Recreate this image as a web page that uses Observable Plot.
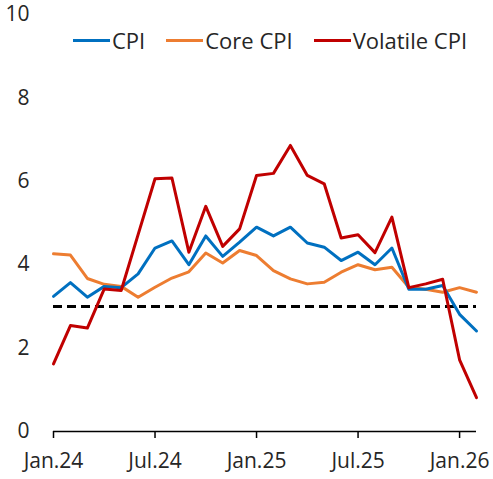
<!DOCTYPE html>
<html>
<head>
<meta charset="utf-8">
<script src="https://cdn.jsdelivr.net/npm/d3@7"></script>
<script src="https://cdn.jsdelivr.net/npm/@observablehq/plot@0.6"></script>
<style>
  html, body { margin: 0; padding: 0; background: #fff; }
  #wrap { position: relative; width: 493px; height: 479px; font-family: "Open Sans", sans-serif; }
  #legend { position: absolute; top: 25px; left: 73px; display: flex; align-items: center; font-size: 22px; color: #262626; white-space: nowrap; }
  .item { display: flex; align-items: center; margin-right: 21px; }
  .sw { width: 37px; height: 3px; margin-right: 2px; }
</style>
</head>
<body>
<div id="wrap"><div id="legend"></div></div>
<script>
const months = ["Jan.24","Feb.24","Mar.24","Apr.24","May.24","Jun.24","Jul.24","Aug.24","Sep.24","Oct.24","Nov.24","Dec.24",
  "Jan.25","Feb.25","Mar.25","Apr.25","May.25","Jun.25","Jul.25","Aug.25","Sep.25","Oct.25","Nov.25","Dec.25","Jan.26","Feb.26"];
const cpi = [3.24,3.57,3.22,3.48,3.45,3.78,4.40,4.57,4.00,4.69,4.20,4.54,
  4.90,4.69,4.90,4.52,4.42,4.10,4.30,4.00,4.40,3.41,3.41,3.50,2.81,2.41];
const coreCpi = [4.26,4.23,3.67,3.53,3.48,3.22,3.46,3.68,3.83,4.28,4.04,4.34,
  4.22,3.86,3.66,3.54,3.58,3.82,4.00,3.88,3.94,3.46,3.41,3.34,3.45,3.34];
const volatileCpi = [1.62,2.54,2.48,3.42,3.38,4.72,6.06,6.08,4.30,5.40,4.44,4.86,
  6.14,6.19,6.86,6.14,5.94,4.64,4.72,4.29,5.14,3.45,3.54,3.65,1.72,0.81];
const seriesNames = ["CPI","Core CPI","Volatile CPI"];
const seriesColors = ["#0070C0","#ED7D31","#C00000"];
const target = [3];
const yTicks = [0,2,4,6,8,10];
const xTickIdx = [0,6,12,18,24];

const rows = (vals, name) => vals.map((v, i) => ({i, month: months[i], v, name}));
const dCpi = rows(cpi, "CPI");
const dCore = rows(coreCpi, "Core CPI");
const dVol = rows(volatileCpi, "Volatile CPI");
const colorOf = Object.fromEntries(seriesNames.map((n, k) => [n, seriesColors[k]]));

const chart = Plot.plot({
  width: 493,
  height: 479,
  marginLeft: 53,
  marginRight: 17,
  marginTop: 14,
  marginBottom: 48,
  style: {fontFamily: "Open Sans, sans-serif", fontSize: "21px", color: "#262626", background: "#fff"},
  x: {type: "linear", domain: [0, months.length - 1]},
  y: {domain: [0, 10]},
  marks: [
    Plot.axisY({ticks: yTicks, tickSize: 0, tickPadding: 24, label: null, tickFormat: d => String(d)}),
    Plot.axisX({ticks: xTickIdx, tickSize: 7, tickPadding: 15, label: null, tickFormat: d => months[d], stroke: "#000", strokeWidth: 1.5}),
    Plot.ruleY([0], {stroke: "#000", strokeWidth: 1.5}),
    Plot.ruleY(target, {stroke: "#000", strokeWidth: 3, strokeDasharray: "9,5"}),
    Plot.line(dCore, {x: "i", y: "v", stroke: colorOf["Core CPI"], strokeWidth: 3, strokeLinejoin: "round"}),
    Plot.line(dCpi, {x: "i", y: "v", stroke: colorOf["CPI"], strokeWidth: 3, strokeLinejoin: "round"}),
    Plot.line(dVol, {x: "i", y: "v", stroke: colorOf["Volatile CPI"], strokeWidth: 3, strokeLinejoin: "round"})
  ]
});
const wrap = document.getElementById("wrap");
wrap.insertBefore(chart, wrap.firstChild);
const legend = document.getElementById("legend");
seriesNames.forEach((n, k) => {
  const it = document.createElement("div");
  it.className = "item";
  const sw = document.createElement("span");
  sw.className = "sw";
  sw.style.background = seriesColors[k];
  const t = document.createElement("span");
  t.textContent = n;
  it.appendChild(sw); it.appendChild(t);
  legend.appendChild(it);
});
</script>
</body>
</html>
